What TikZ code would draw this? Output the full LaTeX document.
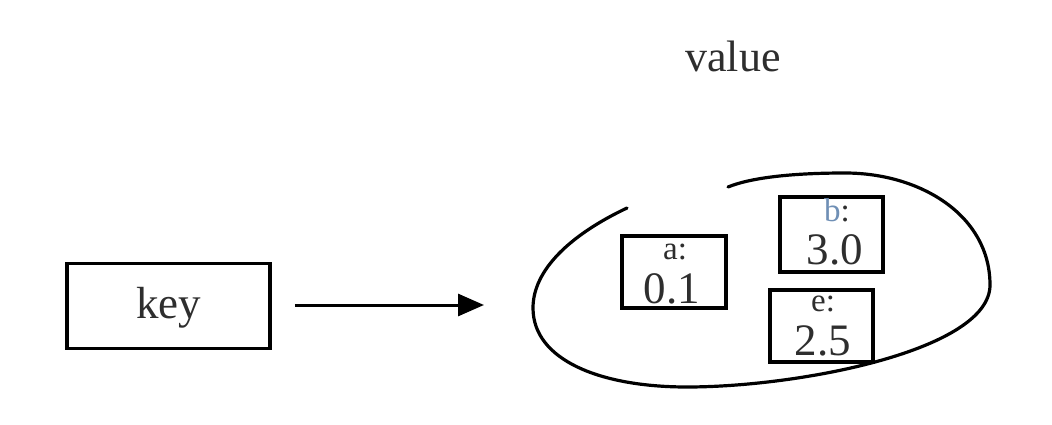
\documentclass[tikz,border=0pt]{standalone}
\usepackage{fontspec}
\setmainfont{Liberation Serif}
\usetikzlibrary{arrows.meta}
\definecolor{ink}{HTML}{2E2E2E}
\definecolor{bblue}{HTML}{6F8FB5}
\tikzset{
  box/.style={draw=black, line width=3.5pt, rectangle, inner sep=0pt},
  lbl/.style={text=ink, inner sep=0pt},
  small/.style={lbl, font=\fontsize{33}{33}\selectfont},
  big/.style={lbl, font=\fontsize{45}{45}\selectfont},
}
\begin{document}
\begin{tikzpicture}[x=1pt,y=1pt]
\useasboundingbox (0,0) rectangle (1052,-425);
% key
\node[box, minimum width=203pt, minimum height=85pt] (key) at (168.5,-306) {};
\node[lbl, font=\fontsize{45}{45}\selectfont, anchor=base] (keytxt) at (168.5,-318) {key};
% value label
\node[lbl, font=\fontsize{44}{44}\selectfont, anchor=base] (value) at (733,-72) {value};
% arrow
\coordinate (tip) at (484,-305);
\draw[line width=3pt, shorten <=23pt, -{Triangle[length=26pt,width=22pt]}] (key.east |- tip) -- (tip);
% inner boxes
\node[box, minimum width=104pt, minimum height=72pt] (abox) at (674,-272) {};
\node[box, minimum width=103pt, minimum height=75pt] (bbox) at (831.5,-234.5) {};
\node[box, minimum width=103pt, minimum height=72pt] (ebox) at (821.5,-326) {};
\node[small, anchor=base] (alab) at (675,-259) {a:};
\node[big, anchor=base] (aval) at (672,-303) {0.1};
\node[small, anchor=base] (blab) at (837,-221) {\textcolor{bblue}{b}:};
\node[big, anchor=base] (bval) at (835,-264) {3.0};
\node[small, anchor=base] (elab) at (823,-311) {e:};
\node[big, anchor=base] (eval) at (823,-355) {2.5};
% open ellipse
\draw[line width=3.2pt, line cap=round]
  (627,-208) .. controls (570,-235) and (533,-270) .. (533,-308)
  .. controls (533,-360) and (600,-387) .. (687,-387)
  .. controls (800,-387) and (990,-350) .. (990,-285)
  .. controls (990,-215) and (920,-173) .. (845,-173)
  .. controls (790,-173) and (750,-178) .. (728,-187);
\end{tikzpicture}
\end{document}
